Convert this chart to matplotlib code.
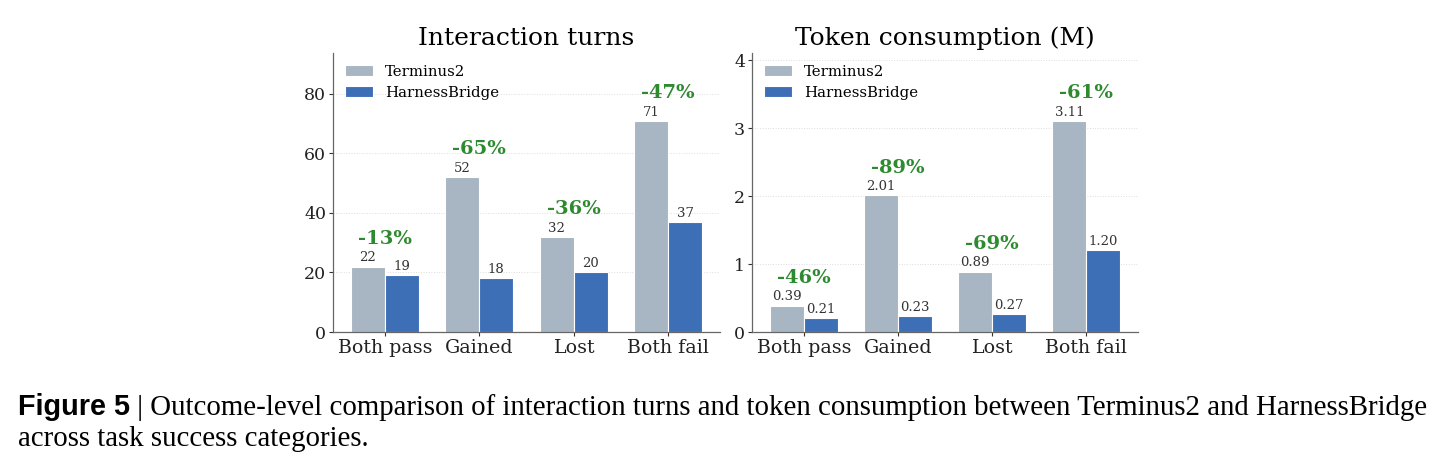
import matplotlib.pyplot as plt
import numpy as np

categories = ["Both pass", "Gained", "Lost", "Both fail"]
series_names = ["Terminus2", "HarnessBridge"]

turns_terminus = [22, 52, 32, 71]
turns_harness = [19, 18, 20, 37]
turns_change = ["-13%", "-65%", "-36%", "-47%"]

tokens_terminus = [0.39, 2.01, 0.89, 3.11]
tokens_harness = [0.21, 0.23, 0.27, 1.20]
tokens_change = ["-46%", "-89%", "-69%", "-61%"]

GREY = "#a8b5c2"
BLUE = "#3d6fb6"
GREEN = "#2e8a2f"

plt.rcParams["font.family"] = "DejaVu Serif"

fig = plt.figure(figsize=(14.42, 4.65), dpi=100)
ax1 = fig.add_axes([0.2309, 0.286, 0.2684, 0.600])
ax2 = fig.add_axes([0.5215, 0.286, 0.2677, 0.600])


def draw_panel(ax, title, a, b, change, fmt, yticks):
    x = np.arange(len(categories))
    w = 0.36
    bars_a = ax.bar(x - w / 2, a, w, color=GREY, edgecolor="white", linewidth=0.8,
                    label=series_names[0], zorder=2)
    bars_b = ax.bar(x + w / 2, b, w, color=BLUE, edgecolor="white", linewidth=0.8,
                    label=series_names[1], zorder=2)
    for bars in (bars_a, bars_b):
        for r in bars:
            h = r.get_height()
            ax.annotate(fmt.format(h), (r.get_x() + r.get_width() / 2, h),
                        xytext=(0, 1.5), textcoords="offset points",
                        ha="center", va="bottom", fontsize=9.5, color="#333333")
    for i in range(len(categories)):
        top = max(a[i], b[i])
        ax.annotate(change[i], (x[i], top), xytext=(0, 13.5), textcoords="offset points",
                    ha="center", va="bottom", fontsize=14, fontweight="bold", color=GREEN)
    ax.set_xlim(-0.55, len(categories) - 0.45)
    ax.set_ylim(0, max(a) * 1.32)
    ax.set_yticks(yticks)
    ax.set_xticks(x)
    ax.set_xticklabels(categories, fontsize=13.7)
    ax.tick_params(axis="y", labelsize=12.5, colors="#333333", length=3, pad=2)
    ax.tick_params(axis="x", length=3, pad=2, colors="#333333")
    for lab in ax.get_xticklabels() + ax.get_yticklabels():
        lab.set_color("#222222")
    ax.grid(axis="y", linestyle=":", color="#dddddd", linewidth=0.7, zorder=0)
    ax.set_axisbelow(True)
    for s in ("top", "right"):
        ax.spines[s].set_visible(False)
    for s in ("left", "bottom"):
        ax.spines[s].set_color("#666666")
        ax.spines[s].set_linewidth(0.9)
    ax.set_title(title, fontsize=18, pad=6)
    ax.legend(loc="upper left", frameon=False, fontsize=10.7, handlelength=1.9,
              handleheight=0.8, borderaxespad=0.4, labelspacing=0.45)


draw_panel(ax1, "Interaction turns", turns_terminus, turns_harness, turns_change,
           "{:.0f}", [0, 20, 40, 60, 80])
draw_panel(ax2, "Token consumption (M)", tokens_terminus, tokens_harness, tokens_change,
           "{:.2f}", [0, 1, 2, 3, 4])

# caption
t0 = fig.text(0.0125, 0.1075, "Figure 5", fontsize=20.8, fontweight="bold",
              family="Liberation Sans", va="baseline")
t1 = fig.text(0, 0, " | Outcome-level comparison of interaction turns and token consumption "
              "between Terminus2 and HarnessBridge", fontsize=20.8,
              family="Liberation Serif", va="baseline")
fig.canvas.draw()
bb = t0.get_window_extent()
t1.set_position((bb.x1 / fig.bbox.width, 0.1075))
fig.text(0.0125, 0.041, "across task success categories.", fontsize=20.8,
         family="Liberation Serif", va="baseline")

fig.savefig("out.png", dpi=100)
